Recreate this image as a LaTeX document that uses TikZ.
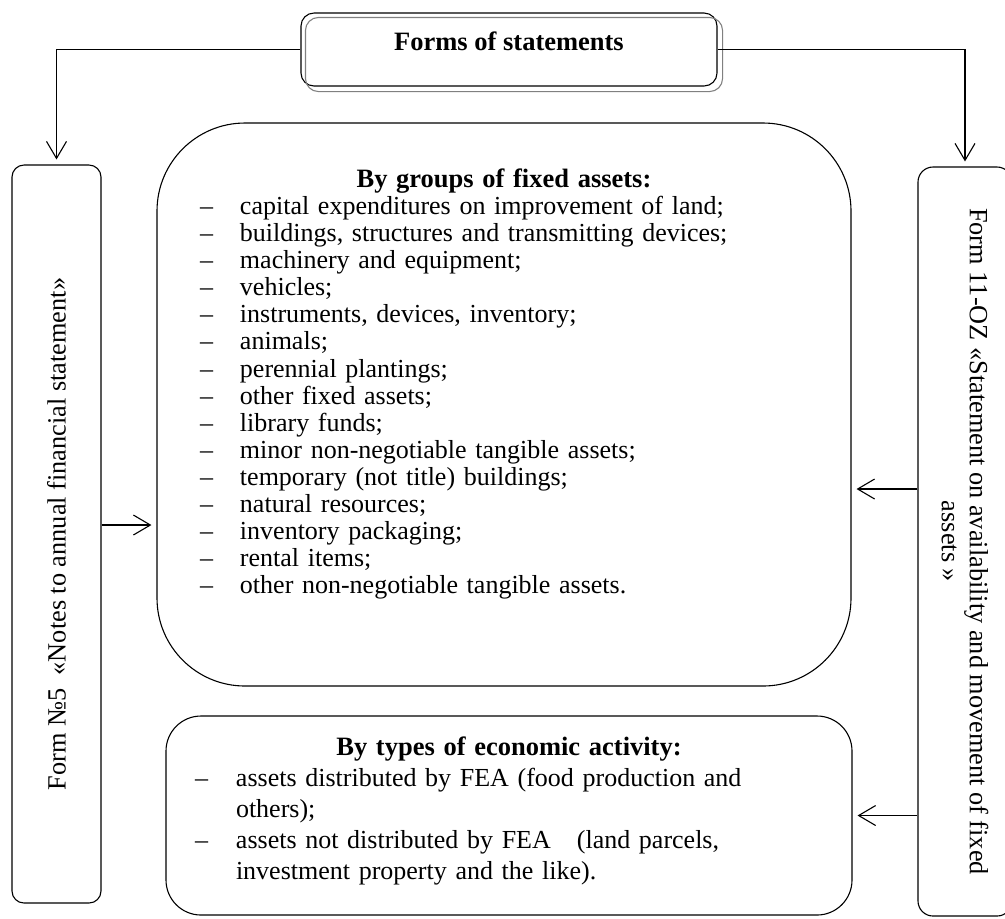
\documentclass[tikz,border=0pt]{standalone}
\usepackage{fontspec}
\setmainfont{Liberation Serif}
\usetikzlibrary{arrows.meta}
\setlength{\parindent}{0pt}
\newcommand{\headfont}{\bfseries\fontsize{13.25}{16}\selectfont}
\newcommand{\sidefont}{\fontsize{13.15}{14}\selectfont}
\newcommand{\listfont}{\fontsize{13}{13.55}\selectfont}
\newcommand{\actfont}{\fontsize{13}{15.5}\selectfont}
\newcommand{\grpitem}{\par\hspace*{21.5pt}\makebox[20pt][l]{--}}
\newcommand{\actitem}{\par\hspace*{14.5pt}\makebox[20.5pt][l]{--}}
\tikzset{box/.style = {draw, inner sep=0pt, line width=0.55pt}}
\tikzset{arr/.style = {-{Straight Barb[length=8.5pt,width=10pt]},
  shorten >=2.5pt, line width=0.55pt}}

\begin{document}
\begin{tikzpicture}[x=0.5pt,y=-0.5pt]
  \useasboundingbox (0,0) rectangle (1005,918);
  \clip (0,0) rectangle (1005,918);
  \node[box, rounded corners=6.5pt, minimum width=208pt, minimum height=36.5pt,
    text depth=8.4pt, font=\headfont] (forms) at (509,49.5) {Forms of statements};
  \draw[black!50, line width=0.55pt, rounded corners=6.5pt]
    ([shift={(5,5)}]forms.north west) rectangle ([shift={(5,5)}]forms.south east);
  \node[box, rounded corners=6pt, rotate=90, minimum width=369pt,
    minimum height=44.5pt, font=\sidefont] (f5) at (56.5,534)
    {Form №5 \ «Notes to annual financial statement»};
  \node[box, rounded corners=7.5pt, rotate=-90, minimum width=374.5pt,
    minimum height=47pt, align=center, font=\sidefont] (f11) at (965,541.5)
    {Form 11-OZ «Statement on availability and movement of fixed\\assets »};
  \node[box, rounded corners=44pt, minimum width=347pt, minimum height=281.5pt,
    text width=347pt, font=\listfont] (groups) at (504,404.5) {%
    {\centering\headfont By groups of fixed assets:\par}
    \grpitem capital expenditures on improvement of land;
    \grpitem buildings, structures and transmitting devices;
    \grpitem machinery and equipment;
    \grpitem vehicles;
    \grpitem instruments, devices, inventory;
    \grpitem animals;
    \grpitem perennial plantings;
    \grpitem other fixed assets;
    \grpitem library funds;
    \grpitem minor non-negotiable tangible assets;
    \grpitem temporary (not title) buildings;
    \grpitem natural resources;
    \grpitem inventory packaging;
    \grpitem rental items;
    \grpitem other non-negotiable tangible assets.\rule[-23.25pt]{0pt}{0pt}};
  \node[box, rounded corners=17.5pt, minimum width=343pt, minimum height=99.5pt,
    text width=343pt, font=\actfont] (activity) at (509,815.5) {%
    {\centering\headfont By types of economic activity:\par}
    \actitem assets distributed by FEA (food production and
    \par\hspace*{35pt}others);
    \actitem assets not distributed by FEA \ \ (land parcels,
    \par\hspace*{35pt}investment property and the like).\rule[-7.5pt]{0pt}{0pt}};
  \coordinate (in5) at ([yshift=-60.25pt]groups.west);
  \coordinate (in11) at ([yshift=-42.25pt]groups.east);
  \draw[arr] (forms.west) -| (f5.east);
  \draw[arr] (forms.east) -| (f11.west);
  \draw[arr] (in5 -| f5.south) -- (in5);
  \draw[arr] (in11 -| f11.south) -- (in11);
  \draw[arr] (activity.east -| f11.south) -- (activity.east);
\end{tikzpicture}
\end{document}
